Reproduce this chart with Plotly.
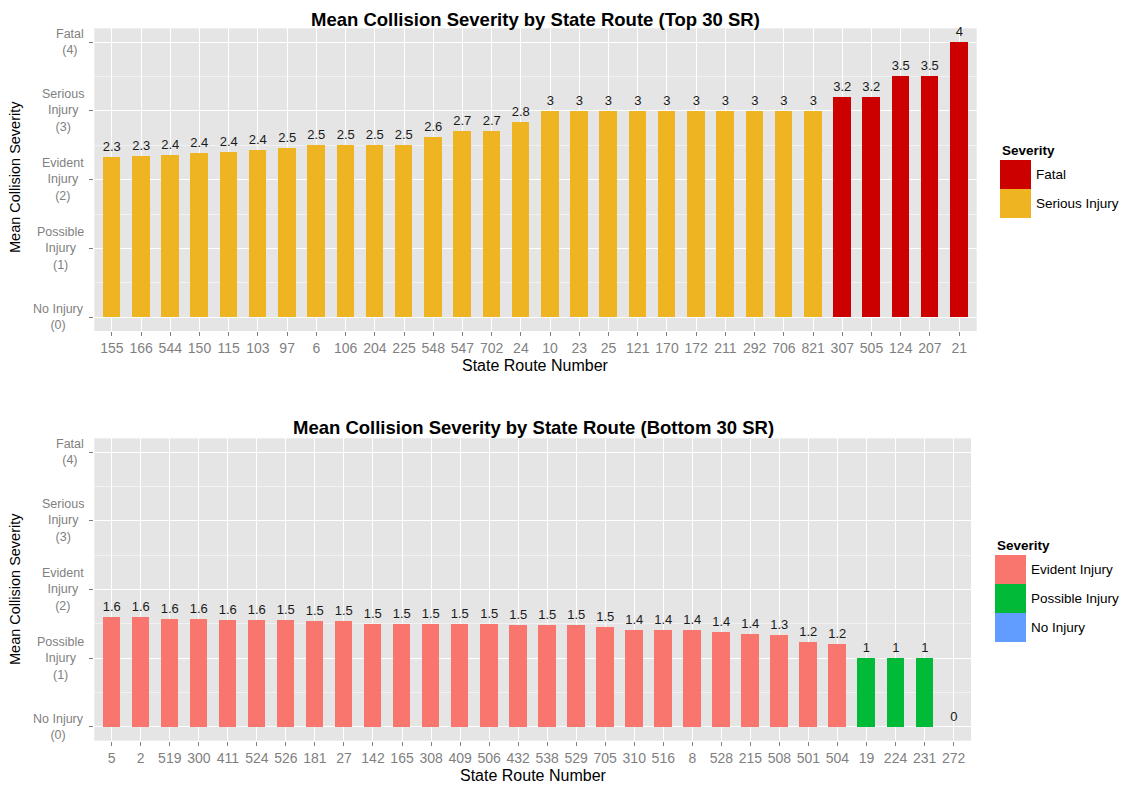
import plotly.graph_objects as go

# ---------------- data ----------------
top_routes = ["155", "166", "544", "150", "115", "103", "97", "6", "106", "204",
              "225", "548", "547", "702", "24", "10", "23", "25", "121", "170",
              "172", "211", "292", "706", "821", "307", "505", "124", "207", "21"]
top_values = [2.33, 2.34, 2.36, 2.38, 2.40, 2.42, 2.46, 2.50, 2.50, 2.50,
              2.50, 2.62, 2.71, 2.71, 2.83, 3.0, 3.0, 3.0, 3.0, 3.0,
              3.0, 3.0, 3.0, 3.0, 3.0, 3.19, 3.19, 3.5, 3.5, 4.0]
top_severity = ["Serious Injury"] * 25 + ["Fatal"] * 5

bottom_routes = ["5", "2", "519", "300", "411", "524", "526", "181", "27", "142",
                 "165", "308", "409", "506", "432", "538", "529", "705", "310", "516",
                 "8", "528", "215", "508", "501", "504", "19", "224", "231", "272"]
bottom_values = [1.59, 1.59, 1.57, 1.57, 1.555, 1.555, 1.548, 1.535, 1.535, 1.495,
                 1.495, 1.495, 1.495, 1.495, 1.476, 1.476, 1.476, 1.456, 1.403, 1.403,
                 1.403, 1.383, 1.352, 1.33, 1.238, 1.2, 1.0, 1.0, 1.0, 0.0]
bottom_severity = ["Evident Injury"] * 26 + ["Possible Injury"] * 3 + ["No Injury"]

severity_ticks = [0, 1, 2, 3, 4]
severity_ticktext = ["No Injury<br>(0)", "Possible<br>Injury<br>(1)", "Evident<br>Injury<br>(2)",
                     "Serious<br>Injury<br>(3)", "Fatal<br>(4)"]

top_levels = ["Fatal", "Serious Injury"]
bottom_levels = ["Evident Injury", "Possible Injury", "No Injury"]
colors = {"Fatal": "#CD0000", "Serious Injury": "#EEB422",
          "Evident Injury": "#F8766D", "Possible Injury": "#00BA38", "No Injury": "#619CFF"}

# ---------------- geometry helpers (layout only) ----------------
OFF = 8  # page body margin
W, H = 1130 - OFF, 785 - OFF
FONT = "Liberation Sans, Arial, sans-serif"


def px(x):
    return (x - OFF) / W


def py(y):
    return 1 - (y - OFF) / H


fig = go.Figure()


def add_bars(routes, values, sev, levels, xa, ya):
    for lev in levels:
        xs = [r for r, s in zip(routes, sev) if s == lev]
        ys = [v for v, s in zip(values, sev) if s == lev]
        fig.add_trace(go.Bar(
            x=xs, y=ys, name=lev, width=0.6,
            marker=dict(color=colors[lev], line=dict(width=0)),
            text=[f"{v:.2g}" for v in ys], textposition="outside",
            textfont=dict(family=FONT, size=13, color="#1a1a1a"),
            constraintext="none", cliponaxis=False,
            xaxis=xa, yaxis=ya, showlegend=False,
        ))


add_bars(top_routes, top_values, top_severity, top_levels, "x", "y")
add_bars(bottom_routes, bottom_values, bottom_severity, bottom_levels, "x2", "y2")

xcommon = dict(type="category", showgrid=True, gridcolor="white", gridwidth=1.2,
               ticks="outside", ticklen=4, tickcolor="#7F7F7F", tickwidth=1,
               tickfont=dict(family=FONT, size=14, color="#7F7F7F"),
               zeroline=False, showline=False, range=[-0.6, 29.6], fixedrange=True)
ycommon = dict(range=[-0.2, 4.2], tickvals=severity_ticks, showticklabels=False,
               showgrid=True, gridcolor="white", gridwidth=1.2,
               minor=dict(dtick=0.5, tick0=0.5, showgrid=True, gridcolor="#F2F2F2", gridwidth=0.7),
               ticks="outside", ticklen=4, tickcolor="#7F7F7F", tickwidth=1,
               zeroline=False, showline=False)

fig.update_layout(
    width=W, height=H,
    margin=dict(l=0, r=0, t=0, b=0),
    paper_bgcolor="white", plot_bgcolor="#E5E5E5",
    barmode="overlay", bargap=0,
    showlegend=False,
    font=dict(family=FONT),
    xaxis=dict(xcommon, domain=[px(94.3), px(976.7)], anchor="y",
               categoryorder="array", categoryarray=top_routes),
    yaxis=dict(ycommon, domain=[py(331), py(28.3)], anchor="x"),
    xaxis2=dict(xcommon, domain=[px(94.3), px(971)], anchor="y2",
                categoryorder="array", categoryarray=bottom_routes),
    yaxis2=dict(ycommon, domain=[py(740.7), py(438.3)], anchor="x2"),
)

annotations = []
# y tick labels (centered multi-line, like ggplot)
for yref in ("y", "y2"):
    for v, t in zip(severity_ticks, severity_ticktext):
        annotations.append(dict(x=px(86), xref="paper", xanchor="right", y=v, yref=yref,
                                yanchor="middle", text=t, showarrow=False, align="center",
                                font=dict(family=FONT, size=12.5, color="#7F7F7F")))

# titles
annotations += [
    dict(x=px(535.5), y=py(19.5), xref="paper", yref="paper", showarrow=False, borderpad=0,
         text="<b>Mean Collision Severity by State Route (Top 30 SR)</b>",
         font=dict(family=FONT, size=18.5, color="black"), xanchor="center", yanchor="middle"),
    dict(x=px(533), y=py(427), xref="paper", yref="paper", showarrow=False, borderpad=0,
         text="<b>Mean Collision Severity by State Route (Bottom 30 SR)</b>",
         font=dict(family=FONT, size=18.5, color="black"), xanchor="center", yanchor="middle"),
    dict(x=px(535.5), y=py(365), xref="paper", yref="paper", showarrow=False,
         text="State Route Number", font=dict(family=FONT, size=16, color="black"),
         xanchor="center", yanchor="middle"),
    dict(x=px(533), y=py(775), xref="paper", yref="paper", showarrow=False,
         text="State Route Number", font=dict(family=FONT, size=16, color="black"),
         xanchor="center", yanchor="middle"),
    dict(x=px(15), y=py(177), xref="paper", yref="paper", showarrow=False, textangle=-90,
         text="Mean Collision Severity", font=dict(family=FONT, size=14.5, color="black"),
         xanchor="center", yanchor="middle"),
    dict(x=px(15), y=py(589), xref="paper", yref="paper", showarrow=False, textangle=-90,
         text="Mean Collision Severity", font=dict(family=FONT, size=14.5, color="black"),
         xanchor="center", yanchor="middle"),
]

# legends drawn as keys
shapes = []


def add_legend(levels, x0, y_title, y_first, key_w=31, key_h=29):
    annotations.append(dict(x=px(x0), y=py(y_title), xref="paper", yref="paper", showarrow=False,
                            text="<b>Severity</b>", xanchor="left", yanchor="middle",
                            font=dict(family=FONT, size=13.5, color="black")))
    for i, lev in enumerate(levels):
        yt = y_first + i * key_h
        shapes.append(dict(type="rect", xref="paper", yref="paper",
                           x0=px(x0), x1=px(x0 + key_w), y0=py(yt + key_h), y1=py(yt),
                           fillcolor=colors[lev], line=dict(width=0)))
        annotations.append(dict(x=px(x0 + key_w + 3), y=py(yt + key_h / 2), xref="paper",
                                yref="paper", showarrow=False, text=lev, xanchor="left",
                                yanchor="middle", font=dict(family=FONT, size=13.5, color="black")))


add_legend(top_levels, 1000, 150, 160)
add_legend(bottom_levels, 995, 545, 555)

fig.update_layout(annotations=annotations, shapes=shapes)

fig.write_html("out.html")
